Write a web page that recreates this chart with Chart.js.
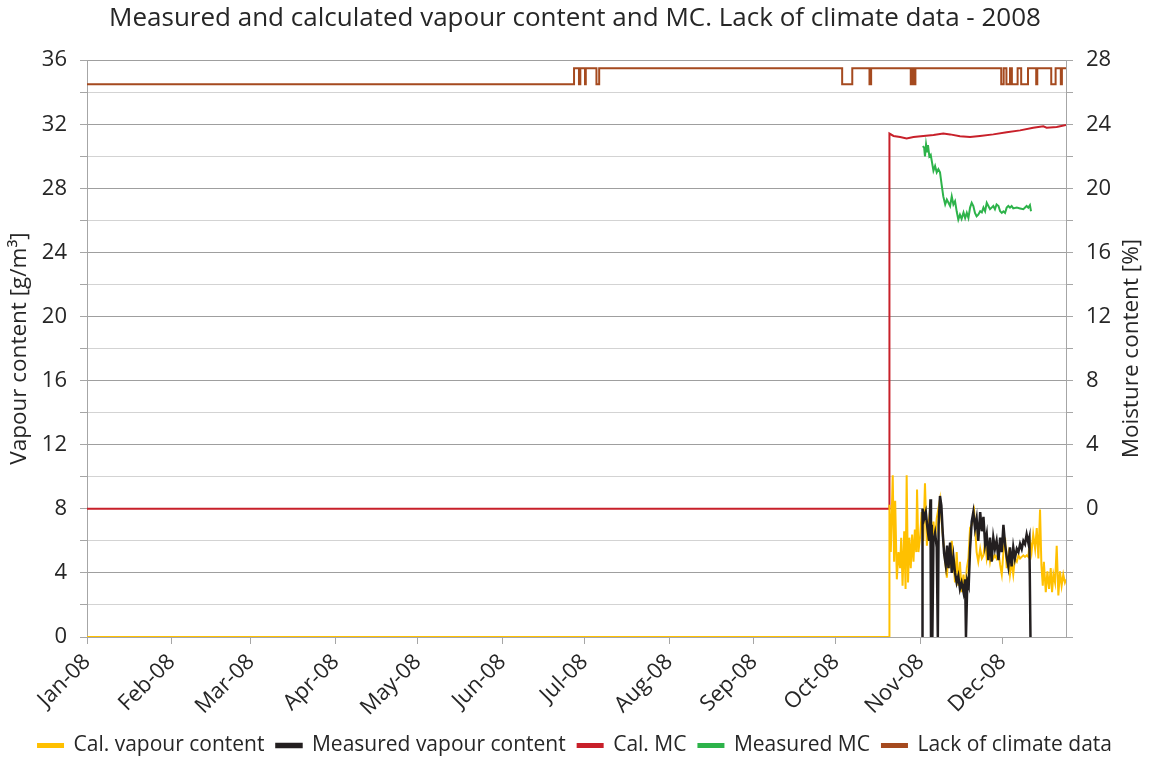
<!DOCTYPE html>
<html>
<head>
<meta charset="utf-8">
<title>Vapour content and MC 2008</title>
<script src="https://cdn.jsdelivr.net/npm/chart.js@4.4.1/dist/chart.umd.min.js"></script>
<style>
  html, body { margin: 0; padding: 0; background: #fff; }
</style>
</head>
<body>
<canvas id="chart" width="1150" height="760"></canvas>
<script>
// x values are day of year (0 = 1 Jan 2008)
const monthLabels = ['Jan-08', 'Feb-08', 'Mar-08', 'Apr-08', 'May-08', 'Jun-08',
  'Jul-08', 'Aug-08', 'Sep-08', 'Oct-08', 'Nov-08', 'Dec-08'];
const monthStarts = [0, 31, 60, 91, 121, 152, 182, 213, 244, 274, 305, 335];
const X_MAX = 358.2;

// Cal. vapour content [g/m3] (left axis)
const calVapourDays = [0, 293.5, 293.6, 294.1, 294.8, 295.3, 295.7, 296.3, 296.9, 297.5, 297.9, 298.4,
  299.0, 299.5, 299.9, 300.4, 300.9, 301.4, 301.9, 302.4, 302.9, 303.4, 303.7, 304.2, 304.8, 305.4,
  306.0, 306.6, 307.3, 307.9, 308.5, 309.1, 309.7, 310.3, 310.9, 311.5, 312.1, 312.7, 313.3, 314.0,
  314.6, 315.2, 315.8, 316.4, 317.0, 317.6, 318.2, 318.8, 319.4, 320.0, 320.7, 321.3, 321.9, 322.5,
  323.1, 323.7, 324.6, 325.5, 326.1, 326.8, 327.4, 328.0, 328.6, 329.2, 329.8, 330.4, 331.0, 331.6,
  332.2, 332.8, 333.5, 334.1, 334.7, 335.3, 335.9, 336.5, 337.1, 337.7, 338.3, 338.9, 339.5, 340.2,
  340.8, 341.4, 342.0, 342.6, 343.2, 343.8, 344.4, 345.0, 345.6, 346.2, 346.9, 347.5, 348.1, 348.7,
  349.2, 349.7, 350.1, 350.8, 351.4, 352.0, 352.6, 353.1, 353.6, 354.2, 354.8, 355.4, 356.0, 356.6,
  357.2, 357.8, 358.2];
const calVapourValues = [0, 0, 8.25, 5.3, 10.1, 4.7, 8.5, 3.6, 5.3, 4.3, 6.2, 3.2,
  6.6, 3.0, 10.1, 3.4, 6.2, 4.3, 6.4, 4.7, 6.7, 5.3, 9.2, 5.3, 6.2, 7.8,
  6.0, 9.6, 5.7, 7.0, 8.05, 6.0, 7.2, 6.0, 7.4, 8.0, 8.6, 7.2, 6.0, 4.7,
  3.7, 5.3, 4.3, 6.0, 4.7, 3.4, 5.3, 3.2, 4.7, 2.8, 3.9, 2.6, 4.3, 4.9,
  6.8, 7.0, 7.8, 5.3, 4.7, 5.5, 4.9, 5.1, 6.0, 4.9, 5.5, 4.7, 5.3, 4.9,
  5.1, 4.9, 5.3, 4.5, 3.9, 5.3, 6.2, 4.3, 5.1, 3.9, 4.7, 3.9, 4.9, 4.7,
  5.1, 4.9, 5.0, 5.1, 5.0, 5.1, 5.0, 6.0, 5.3, 6.4, 5.5, 6.8, 4.9, 7.95,
  4.5, 3.2, 4.7, 2.8, 4.1, 3.0, 4.3, 2.8, 3.9, 3.4, 5.7, 2.6, 4.1, 3.2,
  3.9, 3.4, 3.6];

// Measured vapour content [g/m3] (left axis), zeros are logger gaps
const measVapourDays = [305.6, 305.7, 306.3, 306.9, 307.5, 308.1, 308.6, 308.8, 309.1, 309.3, 309.7,
  310.3, 310.9, 311.3, 311.6, 312.1, 312.6, 313.1, 313.6, 314.2, 314.7, 315.2, 315.8, 316.4, 317.0,
  317.6, 318.2, 318.8, 319.4, 320.0, 320.7, 321.3, 321.6, 322.1, 322.6, 323.1, 323.7, 324.3, 324.9,
  325.5, 326.1, 326.8, 327.4, 328.0, 328.6, 329.2, 329.8, 330.4, 331.0, 331.6, 332.2, 332.8, 333.5,
  334.1, 334.7, 335.3, 335.9, 336.5, 337.1, 337.7, 338.3, 338.9, 339.5, 340.2, 340.8, 341.4, 342.0,
  342.6, 343.2, 343.8, 344.4, 344.8, 345.2];
const measVapourValues = [0, 8.0, 7.4, 7.8, 6.8, 6.0, 8.6, 0, 7.0, 0, 6.0,
  6.5, 5.6, 0, 7.0, 8.8, 8.2, 6.5, 5.2, 4.5, 5.7, 4.3, 5.9, 4.0, 5.0,
  4.0, 3.4, 3.8, 3.0, 3.4, 2.8, 3.6, 0, 3.5, 3.2, 5.5, 7.2, 7.8, 6.8,
  7.4, 6.0, 7.8, 6.6, 7.5, 5.8, 6.4, 4.8, 6.2, 4.7, 6.2, 5.5, 6.0, 4.8,
  6.2, 5.3, 7.0, 5.8, 5.0, 4.4, 5.6, 4.4, 5.6, 4.9, 5.5, 5.3, 5.8, 5.5,
  6.0, 5.8, 6.4, 5.9, 6.2, 0];

// Cal. MC [%] (right axis)
const calMcDays = [0, 293.5, 293.6, 295.1, 297.5, 299.9, 302.4, 306.0, 309.7, 313.3, 315.8, 319.4,
  323.1, 326.7, 331.6, 336.5, 341.4, 346.2, 349.9, 351.1, 354.8, 358.2];
const calMcValues = [0, 0, 23.42, 23.27, 23.2, 23.12, 23.2, 23.27, 23.33, 23.42, 23.37, 23.25,
  23.2, 23.27, 23.37, 23.5, 23.62, 23.79, 23.87, 23.79, 23.83, 23.96];

// Measured MC [%] (right axis)
const measMcDays = [305.8, 306.3, 306.6, 307.0, 307.4, 307.7, 308.2, 308.7, 309.1, 309.7, 310.3,
  310.9, 311.5, 312.1, 312.7, 313.3, 314.0, 314.6, 315.2, 315.8, 316.4, 317.0, 317.6, 318.2, 318.8,
  319.4, 320.0, 320.7, 321.3, 321.9, 322.5, 323.1, 323.7, 324.3, 324.9, 325.5, 326.1, 326.8, 327.4,
  328.0, 328.6, 329.2, 329.8, 330.4, 331.0, 331.6, 332.2, 332.8, 333.5, 334.1, 334.7, 335.3, 335.9,
  336.5, 337.1, 337.7, 338.3, 338.9, 340.2, 341.4, 342.6, 343.8, 344.4, 345.0, 345.4];
const measMcValues = [22.64, 22.54, 22.0, 22.75, 22.3, 22.7, 22.0, 22.1, 21.7, 21.1, 21.4,
  21.0, 21.2, 21.0, 20.24, 19.5, 19.0, 19.3, 19.1, 18.9, 19.5, 19.0, 19.2, 18.57, 18.05,
  18.36, 18.1, 18.5, 18.15, 18.47, 18.15, 18.8, 19.1, 18.9, 18.47, 18.26, 18.36, 18.57, 18.5,
  18.8, 18.57, 19.1, 18.9, 18.7, 18.8, 18.9, 18.7, 19.0, 18.9, 18.57, 18.47, 18.57, 18.47,
  18.8, 18.9, 18.8, 18.9, 18.75, 18.8, 18.75, 18.7, 18.9, 18.8, 18.95, 18.57];

// Lack of climate data (right axis, step line: 26.5 = lack, 27.5 = data)
const lackDays = [0, 178.2, 180.0, 180.5, 182.2, 182.5, 186.4, 187.4, 276.3, 280.0, 286.3, 286.9,
  301.4, 302.1, 302.5, 303.1, 334.5, 335.4, 336.4, 337.7, 338.4, 340.5, 341.8, 344.3, 347.3, 347.7,
  352.8, 354.4, 356.3, 356.7, 358.2];
const lackValues = [26.5, 27.5, 26.5, 27.5, 26.5, 27.5, 26.5, 27.5, 26.5, 27.5, 26.5, 27.5,
  26.5, 27.5, 26.5, 27.5, 26.5, 27.5, 26.5, 27.5, 26.5, 27.5, 26.5, 27.5, 26.5, 27.5,
  26.5, 27.5, 26.5, 27.5, 27.5];

const FONT = '"Open Sans", "DejaVu Sans", sans-serif';
const TEXT = '#262626';
const AXIS_GREY = '#a6a6a6';
const TICK_SIZE = 22;
const AXIS_TITLE_SIZE = 22.5;

function toPoints(days, values) {
  return days.map((d, i) => ({ x: d, y: values[i] }));
}

function lineDataset(label, days, values, color, yAxisID, width) {
  return {
    label,
    data: toPoints(days, values),
    borderColor: color,
    backgroundColor: color,
    borderWidth: width,
    pointRadius: 0,
    tension: 0,
    fill: false,
    yAxisID
  };
}

// black is drawn over yellow, legend keeps the original order
const datasets = [
  lineDataset('Measured vapour content', measVapourDays, measVapourValues, '#231f20', 'y', 2.5),
  lineDataset('Cal. vapour content', calVapourDays, calVapourValues, '#ffc000', 'y', 2),
  lineDataset('Cal. MC', calMcDays, calMcValues, '#c8202a', 'y1', 2),
  lineDataset('Measured MC', measMcDays, measMcValues, '#2db34a', 'y1', 2),
  Object.assign(lineDataset('Lack of climate data', lackDays, lackValues, '#a54a1f', 'y1', 2), { stepped: 'before' })
];
const legendRank = [1, 0, 2, 3, 4];

// right axis title reads bottom to top like the left one
const rightTitle = {
  id: 'rightTitle',
  afterDraw(chart) {
    const { ctx, chartArea } = chart;
    ctx.save();
    ctx.translate(chart.width - 18, (chartArea.top + chartArea.bottom) / 2);
    ctx.rotate(-Math.PI / 2);
    ctx.font = `${AXIS_TITLE_SIZE}px ${FONT}`;
    ctx.fillStyle = TEXT;
    ctx.textAlign = 'center';
    ctx.textBaseline = 'middle';
    ctx.fillText('Moisture content [%]', 0, 0);
    ctx.restore();
  }
};

new Chart(document.getElementById('chart'), {
  type: 'line',
  data: { datasets },
  plugins: [rightTitle],
  options: {
    responsive: false,
    animation: false,
    layout: { padding: { left: 0, right: 0, top: 0, bottom: -6 } },
    plugins: {
      title: {
        display: true,
        text: 'Measured and calculated vapour content and MC. Lack of climate data - 2008',
        color: TEXT,
        font: { family: FONT, size: 26, weight: 'normal' },
        padding: { top: 3, bottom: 26 }
      },
      legend: {
        position: 'bottom',
        labels: {
          color: TEXT,
          font: { family: FONT, size: 21 },
          boxWidth: 25,
          boxHeight: 3,
          padding: 12,
          sort: (a, b) => legendRank[a.datasetIndex] - legendRank[b.datasetIndex]
        }
      },
      tooltip: { enabled: false }
    },
    scales: {
      x: {
        type: 'linear',
        min: 0,
        max: X_MAX,
        afterBuildTicks: (scale) => { scale.ticks = monthStarts.map(v => ({ value: v })); },
        afterFit: (scale) => { scale.height = 86; },
        ticks: {
          autoSkip: false,
          minRotation: 45,
          maxRotation: 45,
          padding: 5,
          color: TEXT,
          font: { family: FONT, size: TICK_SIZE },
          callback: (value) => monthLabels[monthStarts.indexOf(value)]
        },
        grid: { drawOnChartArea: false, tickLength: 7, color: AXIS_GREY },
        border: { color: AXIS_GREY }
      },
      y: {
        position: 'left',
        min: 0,
        max: 36,
        afterFit: (scale) => { scale.width = 87; },
        ticks: {
          stepSize: 2,
          padding: 13,
          color: TEXT,
          font: { family: FONT, size: TICK_SIZE },
          callback: (v) => (v % 4 === 0 ? v : '')
        },
        grid: {
          color: (ctx) => (ctx.tick && ctx.tick.value % 4 === 0 ? '#9f9f9f' : '#d3d3d3'),
          tickColor: AXIS_GREY,
          tickLength: 7
        },
        border: { color: AXIS_GREY },
        title: {
          display: true,
          text: 'Vapour content [g/m³]',
          color: TEXT,
          font: { family: FONT, size: AXIS_TITLE_SIZE },
          padding: { top: 6, bottom: 0 }
        }
      },
      y1: {
        position: 'right',
        min: -8,
        max: 28,
        afterFit: (scale) => { scale.width = 84; },
        ticks: {
          stepSize: 2,
          padding: 13,
          color: TEXT,
          font: { family: FONT, size: TICK_SIZE },
          callback: (v) => (v >= 0 && v % 4 === 0 ? v : '')
        },
        grid: { drawOnChartArea: false, color: AXIS_GREY, tickLength: 7 },
        border: { color: AXIS_GREY }
      }
    }
  }
});
</script>
</body>
</html>
